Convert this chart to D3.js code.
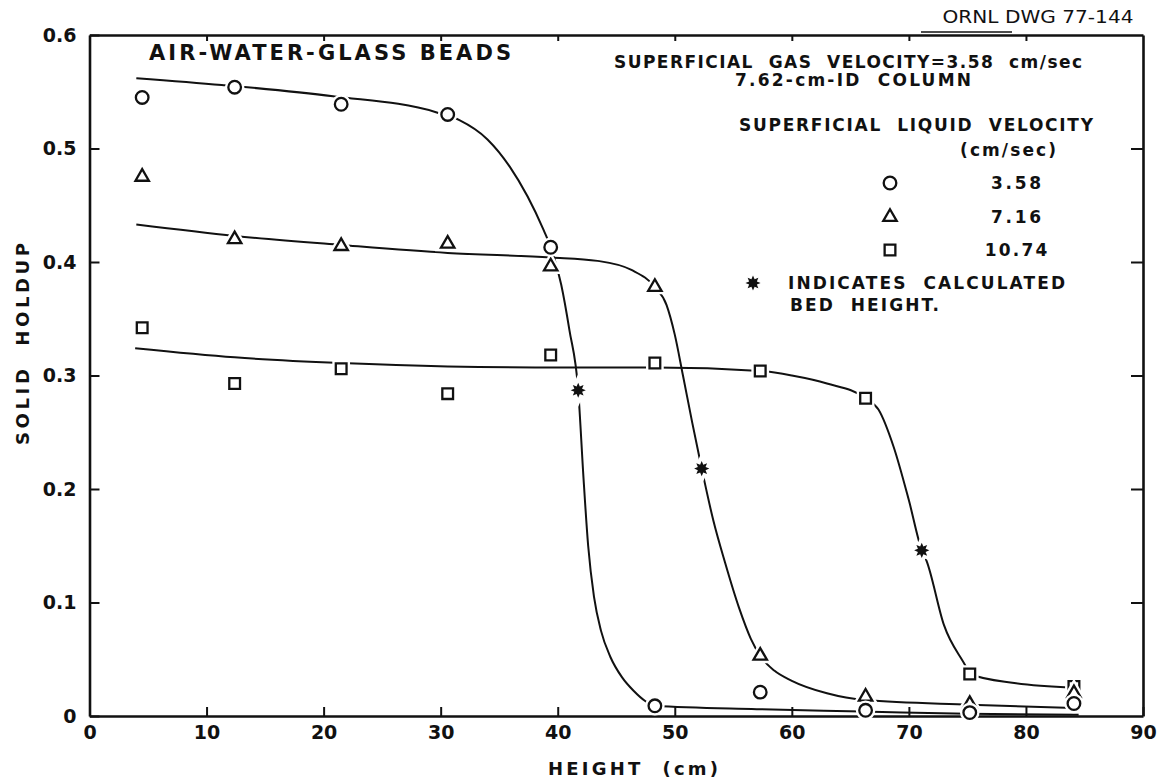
<!DOCTYPE html>
<html>
<head>
<meta charset="utf-8">
<script src="https://cdn.jsdelivr.net/npm/d3@7"></script>
<style>
  html, body { margin: 0; padding: 0; background: #fff; }
  svg { display: block; }
  text { font-family: "DejaVu Sans", sans-serif; fill: #111; white-space: pre; }
</style>
</head>
<body>
<svg id="chart" width="1158" height="784"></svg>
<script>
// Measured heights (cm) along the column
const heights = [4.5, 12.4, 21.5, 30.6, 39.4, 48.3, 57.3, 66.3, 75.2, 84.1];

// Solid holdup at each height, one series per superficial liquid velocity
const holdup358 = [0.545, 0.554, 0.539, 0.530, 0.413, 0.009, 0.021, 0.005, 0.003, 0.011];
const holdup716 = [0.475, 0.420, 0.414, 0.416, 0.396, 0.378, 0.053, 0.017, 0.0105, 0.020];
const holdup1074 = [0.342, 0.293, 0.306, 0.284, 0.318, 0.311, 0.304, 0.280, 0.037, 0.026];

// Calculated bed heights (asterisks)
const bedHeight = [41.75, 52.3, 71.1];
const bedHoldup = [0.287, 0.218, 0.146];

// Hand-fitted curves through each series
const fitX358 = [4.0, 11.3, 20.8, 29.6, 31.6, 34.0, 35.9, 38.8, 39.4, 40.3, 41.0, 41.75, 42.2, 42.6, 43.1, 43.7, 44.5, 45.5, 46.5, 47.5, 48.3, 57.0, 66.0, 75.0, 84.5];
const fitY358 = [0.562, 0.556, 0.546, 0.532, 0.525, 0.508, 0.484, 0.428, 0.413, 0.38, 0.34, 0.287, 0.21, 0.15, 0.105, 0.075, 0.052, 0.034, 0.022, 0.013, 0.009, 0.006, 0.004, 0.002, 0.001];

const fitX716 = [4.0, 12.4, 21.5, 30.6, 39.4, 43.4, 46.3, 48.3, 49.3, 50.0, 50.7, 51.5, 52.3, 53.3, 54.3, 55.5, 56.5, 57.3, 58.5, 60.0, 63.0, 66.3, 75.2, 84.1];
const fitY716 = [0.433, 0.423, 0.415, 0.408, 0.404, 0.401, 0.393, 0.378, 0.362, 0.336, 0.300, 0.258, 0.218, 0.172, 0.135, 0.095, 0.068, 0.053, 0.040, 0.031, 0.02, 0.014, 0.010, 0.007];

const fitX1074 = [3.9, 12.4, 21.5, 30.6, 40.4, 48.3, 57.3, 60.0, 63.0, 66.3, 67.4, 68.7, 70.0, 71.1, 71.5, 73.0, 74.9, 75.2, 79.0, 84.1];
const fitY1074 = [0.324, 0.316, 0.311, 0.308, 0.307, 0.307, 0.304, 0.300, 0.293, 0.280, 0.27, 0.237, 0.19, 0.146, 0.137, 0.08, 0.043, 0.037, 0.029, 0.025];

// Axis ticks
const xTicks = [0, 10, 20, 30, 40, 50, 60, 70, 80, 90];
const yTicks = [0, 0.1, 0.2, 0.3, 0.4, 0.5, 0.6];

// Legend entries
const legendValues = ["3.58", "7.16", "10.74"];

const svg = d3.select("#chart");
const x = d3.scaleLinear().domain([0, 90]).range([89.5, 1143]);
const y = d3.scaleLinear().domain([0, 0.6]).range([716, 35]);

// 8-pointed solid star for the calculated bed height
const star = {
  draw(ctx, size) {
    const R = Math.sqrt(size) * 0.62, r = R * 0.55;
    for (let i = 0; i < 16; i++) {
      const a = Math.PI * i / 8 - Math.PI / 2;
      const rad = i % 2 ? r : R;
      const px = rad * Math.cos(a), py = rad * Math.sin(a);
      i ? ctx.lineTo(px, py) : ctx.moveTo(px, py);
    }
    ctx.closePath();
  }
};

const shapes = {
  circle: d3.symbol().type(d3.symbolCircle).size(125),
  triangle: d3.symbol().type(d3.symbolTriangle).size(78),
  square: d3.symbol().type(d3.symbolSquare).size(115),
  star: d3.symbol().type(star).size(150)
};

// Frame and axes
function styleAxis(g) {
  g.select(".domain").attr("stroke", "#111").attr("stroke-width", 2.6);
  g.selectAll(".tick line").attr("stroke", "#111").attr("stroke-width", 2);
  g.selectAll(".tick text").attr("font-size", 19).attr("font-weight", "bold").attr("fill", "#111");
}

svg.append("g")
  .attr("transform", `translate(0,${y(0)})`)
  .call(d3.axisBottom(x).tickValues(xTicks).tickSizeInner(-9).tickSizeOuter(0).tickPadding(10).tickFormat(d => d))
  .call(styleAxis);

svg.append("g")
  .attr("transform", `translate(${x(0)},0)`)
  .call(d3.axisLeft(y).tickValues(yTicks).tickSizeInner(-10).tickSizeOuter(0).tickPadding(13)
    .tickFormat(d => d === 0 ? "0" : d.toFixed(1)))
  .call(styleAxis);

svg.append("g")
  .attr("transform", `translate(0,${y(0.6)})`)
  .call(d3.axisTop(x).tickValues(xTicks.slice(1, -1)).tickSizeInner(-6).tickSizeOuter(0).tickFormat(""))
  .call(styleAxis);

svg.append("g")
  .attr("transform", `translate(${x(90)},0)`)
  .call(d3.axisRight(y).tickValues(yTicks.slice(1, -1)).tickSizeInner(-12).tickSizeOuter(0).tickFormat(""))
  .call(styleAxis);

// Fitted curves
const line = d3.line().x(d => x(d[0])).y(d => y(d[1])).curve(d3.curveMonotoneX);
[[fitX358, fitY358], [fitX716, fitY716], [fitX1074, fitY1074]].forEach(([fx, fy]) => {
  svg.append("path")
    .attr("d", line(fx.map((v, i) => [v, fy[i]])))
    .attr("fill", "none").attr("stroke", "#111").attr("stroke-width", 2);
});

// Markers with a white halo so the curves break around them
function marks(xs, ys, shape) {
  const pts = xs.map((v, i) => [v, ys[i]]);
  const g = svg.append("g");
  g.selectAll("path.halo").data(pts).join("path")
    .attr("class", "halo")
    .attr("transform", d => `translate(${x(d[0])},${y(d[1])})`)
    .attr("d", shapes[shape]).attr("fill", "#fff").attr("stroke", "#fff").attr("stroke-width", 7);
  g.selectAll("path.mark").data(pts).join("path")
    .attr("class", "mark")
    .attr("transform", d => `translate(${x(d[0])},${y(d[1])})`)
    .attr("d", shapes[shape])
    .attr("fill", shape === "star" ? "#111" : "#fff")
    .attr("stroke", "#111").attr("stroke-width", shape === "star" ? 0 : 2.3);
}
marks(heights, holdup1074, "square");
marks(heights, holdup716, "triangle");
marks(heights, holdup358, "circle");
marks(bedHeight, bedHoldup, "star");

// Text annotations
function label(txt, cx, cy, size, len, opts = {}) {
  return svg.append("text")
    .attr("x", cx).attr("y", cy)
    .attr("text-anchor", opts.anchor || "middle")
    .attr("dominant-baseline", "central")
    .attr("font-size", size)
    .attr("font-weight", opts.weight || "bold")
    .attr("font-family", opts.family || null)
    .attr("textLength", len).attr("lengthAdjust", opts.adjust || "spacing")
    .text(txt);
}

label("AIR-WATER-GLASS BEADS", 330, 53, 21, 362);
label("SUPERFICIAL  GAS  VELOCITY=3.58  cm/sec", 848, 62, 17, 468);
label("7.62-cm-ID  COLUMN", 853, 80, 17, 236);
label("SUPERFICIAL  LIQUID  VELOCITY", 916, 125, 17, 354);
label("(cm/sec)", 1008, 150, 17, 96);
label("INDICATES  CALCULATED", 788, 283, 17, 277, { anchor: "start" });
label("BED  HEIGHT.", 790, 305, 17, 149, { anchor: "start" });
label("ORNL DWG 77-144", 1038, 17, 17, 191, { weight: "normal", family: "Liberation Sans, Arial, sans-serif", adjust: "spacingAndGlyphs" });
svg.append("line").attr("x1", 921).attr("x2", 1012).attr("y1", 32).attr("y2", 32)
  .attr("stroke", "#111").attr("stroke-width", 1.5);

// Legend
const legendY = [183, 217, 250];
["circle", "triangle", "square"].forEach((s, i) => {
  svg.append("path").attr("transform", `translate(890,${legendY[i]})`)
    .attr("d", shapes[s]).attr("fill", "#fff").attr("stroke", "#111").attr("stroke-width", 2.3);
  label(legendValues[i], 1016, legendY[i], 17, legendValues[i].length * 12.5);
});
svg.append("path").attr("transform", "translate(753,283)").attr("d", shapes.star).attr("fill", "#111");

// Axis titles
label("HEIGHT  (cm)", 633, 768, 18, 170);
svg.append("text")
  .attr("transform", "translate(22,344) rotate(-90)")
  .attr("text-anchor", "middle").attr("dominant-baseline", "central")
  .attr("font-size", 18).attr("font-weight", "bold")
  .attr("textLength", 202).attr("lengthAdjust", "spacing")
  .text("SOLID  HOLDUP");
</script>
</body>
</html>
